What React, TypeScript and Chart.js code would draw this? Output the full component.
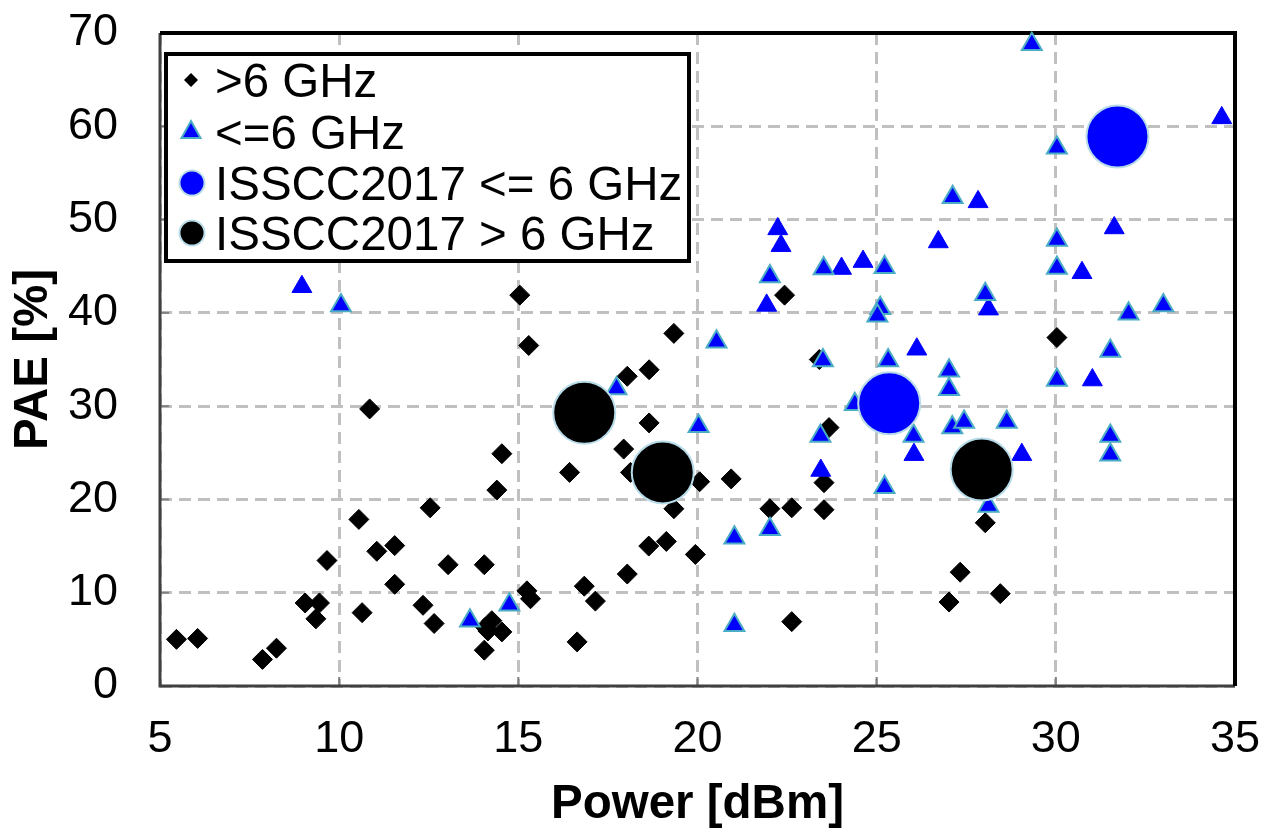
import React, { useEffect, useRef } from "react";
import { Chart, registerables } from "chart.js";

Chart.register(...registerables);

// ---- data: >6 GHz (black diamonds)
const gt6X = [5.46, 6.05, 7.86, 8.25, 9.05, 9.45, 9.35, 9.66, 10.64, 10.55, 10.85, 11.05, 11.55, 11.55, 12.34, 12.65, 12.54, 13.04, 14.05, 14.05, 14.54, 14.08, 14.26, 14.15, 14.4, 14.54, 15.04, 15.29, 15.24, 15.34, 19.34, 18.04, 18.65, 18.65, 17.94, 18.13, 16.43, 20.06, 20.94, 19.34, 18.64, 19.13, 19.94, 18.04, 16.84, 17.15, 16.64, 22.02, 22.63, 22.63, 22.43, 23.4, 23.67, 23.53, 23.53, 30.03, 28.03, 27.33, 27.02, 28.45];
const gt6Y = [5.0, 5.1, 2.85, 4.05, 8.9, 8.9, 7.2, 13.45, 7.86, 17.86, 29.7, 14.44, 15.05, 10.9, 8.65, 6.7, 19.1, 13.0, 13.0, 3.84, 5.8, 6.3, 7.0, 5.9, 21.0, 24.9, 41.9, 36.5, 10.2, 9.35, 37.8, 33.2, 33.9, 28.2, 25.4, 22.9, 22.9, 21.9, 22.2, 19.0, 15.0, 15.5, 14.1, 12.0, 10.7, 9.1, 4.73, 19.0, 19.1, 6.9, 41.9, 35.0, 27.7, 21.8, 18.9, 37.35, 17.5, 12.2, 9.0, 9.9];

// ---- data: <=6 GHz (blue triangles, outlined)
const le6X = [10.05, 13.65, 14.75, 17.74, 20.03, 20.53, 21.03, 21.03, 22.02, 22.02, 23.52, 25.22, 23.5, 23.43, 24.39, 25.1, 25.02, 25.32, 25.22, 26.03, 27.02, 27.02, 27.11, 27.44, 28.63, 28.12, 28.03, 27.12, 29.33, 30.03, 30.03, 30.03, 30.03, 31.52, 31.52, 31.52, 32.03, 33.0];
const le6Y = [40.8, 7.0, 8.7, 31.9, 27.85, 36.9, 15.9, 6.5, 16.8, 43.9, 44.75, 44.9, 34.9, 26.8, 30.2, 40.5, 39.7, 34.9, 21.3, 26.8, 33.8, 31.8, 27.7, 28.3, 28.3, 19.3, 42.0, 52.4, 68.8, 57.7, 47.8, 44.8, 32.8, 35.9, 26.8, 24.8, 39.9, 40.8];

// ---- data: <=6 GHz (blue triangles, no outline)
const le6bX = [8.96, 21.93, 22.24, 22.33, 24.02, 24.62, 23.44, 26.12, 26.04, 26.72, 27.83, 28.12, 29.05, 30.73, 31.02, 31.63, 34.63];
const le6bY = [42.8, 40.8, 49.0, 47.2, 44.75, 45.5, 23.1, 36.1, 24.8, 47.6, 51.9, 40.4, 24.8, 44.3, 32.8, 49.1, 60.9];

// ---- data: ISSCC2017
const isscLeX = [25.35, 31.72];
const isscLeY = [30.3, 58.9];
const isscGtX = [16.84, 19.03, 27.93];
const isscGtY = [29.3, 22.9, 23.2];

const xTicks = [5, 10, 15, 20, 25, 30, 35];
const yTicks = [0, 10, 20, 30, 40, 50, 60, 70];

const legendLabels = [">6 GHz", "<=6 GHz", "ISSCC2017 <= 6 GHz", "ISSCC2017 > 6 GHz"];

const FONT = "'Liberation Sans', Arial, sans-serif";

function pts(xs: number[], ys: number[]) {
  return xs.map((x, i) => ({ x, y: ys[i] }));
}

const framePlugin = {
  id: "frame",
  beforeDatasetsDraw(chart: any) {
    const { ctx, chartArea: a, scales } = chart;
    ctx.save();
    ctx.setLineDash([]);
    ctx.strokeStyle = "#808080";
    ctx.lineWidth = 2;
    xTicks.forEach((v) => {
      const px = scales.x.getPixelForValue(v);
      ctx.beginPath();
      ctx.moveTo(px, a.bottom);
      ctx.lineTo(px, a.bottom - 9);
      ctx.stroke();
    });
    yTicks.forEach((v) => {
      const py = scales.y.getPixelForValue(v);
      ctx.beginPath();
      ctx.moveTo(a.left, py);
      ctx.lineTo(a.left + 9, py);
      ctx.stroke();
    });
    ctx.strokeStyle = "#404040";
    ctx.lineWidth = 3;
    ctx.beginPath();
    ctx.moveTo(a.left, a.top);
    ctx.lineTo(a.left, a.bottom);
    ctx.lineTo(a.right, a.bottom);
    ctx.stroke();
    ctx.strokeStyle = "#000";
    ctx.lineWidth = 4;
    ctx.beginPath();
    ctx.moveTo(a.left, a.top);
    ctx.lineTo(a.right, a.top);
    ctx.lineTo(a.right, a.bottom);
    ctx.stroke();
    ctx.restore();
  },
};

const legendPlugin = {
  id: "boxLegend",
  afterDraw(chart: any) {
    const { ctx } = chart;
    ctx.save();
    ctx.setLineDash([]);
    ctx.fillStyle = "#fff";
    ctx.fillRect(166, 54, 523, 207);
    ctx.strokeStyle = "#000";
    ctx.lineWidth = 4;
    ctx.strokeRect(166, 54, 523, 207);
    const rows = [80, 132, 183, 233];
    const mx = 191;
    // diamond
    ctx.fillStyle = "#000";
    ctx.beginPath();
    ctx.moveTo(mx, rows[0] - 7);
    ctx.lineTo(mx + 7, rows[0]);
    ctx.lineTo(mx, rows[0] + 7);
    ctx.lineTo(mx - 7, rows[0]);
    ctx.closePath();
    ctx.fill();
    // triangle
    ctx.fillStyle = "#0000ff";
    ctx.strokeStyle = "#4bacc6";
    ctx.lineWidth = 2;
    ctx.beginPath();
    ctx.moveTo(mx, rows[1] - 11);
    ctx.lineTo(mx + 9.5, rows[1] + 6);
    ctx.lineTo(mx - 9.5, rows[1] + 6);
    ctx.closePath();
    ctx.fill();
    ctx.stroke();
    // circles
    ctx.strokeStyle = "#b7dbe8";
    ctx.fillStyle = "#0000ff";
    ctx.beginPath();
    ctx.arc(mx + 1, rows[2], 12.5, 0, Math.PI * 2);
    ctx.fill();
    ctx.stroke();
    ctx.fillStyle = "#000";
    ctx.beginPath();
    ctx.arc(mx + 1, rows[3], 12.5, 0, Math.PI * 2);
    ctx.fill();
    ctx.stroke();
    // text
    ctx.fillStyle = "#000";
    ctx.font = `47.5px ${FONT}`;
    ctx.textAlign = "left";
    ctx.textBaseline = "alphabetic";
    legendLabels.forEach((t, i) => {
      ctx.fillText(t, 215, rows[i] + 17);
    });
    ctx.restore();
  },
};

export default function App() {
  const ref = useRef<HTMLCanvasElement | null>(null);

  useEffect(() => {
    if (!ref.current) return;
    const chart = new Chart(ref.current, {
      type: "scatter",
      data: {
        datasets: [
          {
            label: legendLabels[0],
            data: pts(gt6X, gt6Y),
            pointStyle: "rectRot",
            pointRadius: 10,
            backgroundColor: "#000",
            borderColor: "#000",
            borderWidth: 1,
            order: 3,
            clip: false,
          },
          {
            label: legendLabels[1],
            data: pts(le6X, le6Y),
            pointStyle: "triangle",
            pointRadius: 11.5,
            backgroundColor: "#0000ff",
            borderColor: "#4bacc6",
            borderWidth: 2,
            order: 2,
            clip: false,
          },
          {
            label: legendLabels[1],
            data: pts(le6bX, le6bY),
            pointStyle: "triangle",
            pointRadius: 11.5,
            backgroundColor: "#0000ff",
            borderColor: "#0000ff",
            borderWidth: 1,
            order: 2,
            clip: false,
          },
          {
            label: legendLabels[2],
            data: pts(isscLeX, isscLeY),
            pointStyle: "circle",
            pointRadius: 31,
            backgroundColor: "#0000ff",
            borderColor: "#b7dbe8",
            borderWidth: 2,
            order: 1,
            clip: false,
          },
          {
            label: legendLabels[3],
            data: pts(isscGtX, isscGtY),
            pointStyle: "circle",
            pointRadius: 31,
            backgroundColor: "#000",
            borderColor: "#b7dbe8",
            borderWidth: 2,
            order: 1,
            clip: false,
          },
        ] as any,
      },
      options: {
        responsive: false,
        animation: false,
        events: [],
        layout: { padding: { top: 31, right: 39, left: 0, bottom: 0 } },
        plugins: {
          legend: { display: false },
          tooltip: { enabled: false },
        },
        scales: {
          x: {
            type: "linear",
            min: 5,
            max: 35,
            afterFit: (s: any) => {
              s.height = 152;
              s.paddingLeft = 0;
              s.paddingRight = 0;
            },
            afterBuildTicks: (s: any) => {
              s.ticks = xTicks.map((v) => ({ value: v }));
            },
            ticks: {
              font: { family: FONT, size: 45 },
              color: "#000",
              padding: 27,
              maxRotation: 0,
            },
            grid: { color: "#c0c0c0", lineWidth: 3, drawTicks: false },
            border: { display: false, dash: [12, 7] },
            title: {
              display: true,
              text: "Power [dBm]",
              font: { family: FONT, size: 47.5, weight: "bold" },
              color: "#000",
              padding: { top: 0, bottom: 5 },
            },
          },
          y: {
            type: "linear",
            min: 0,
            max: 70,
            afterFit: (s: any) => {
              s.width = 160;
              s.paddingTop = 0;
              s.paddingBottom = 0;
            },
            afterBuildTicks: (s: any) => {
              s.ticks = yTicks.map((v) => ({ value: v }));
            },
            ticks: {
              font: { family: FONT, size: 45 },
              color: "#000",
              padding: 42,
            },
            grid: { color: "#c0c0c0", lineWidth: 3, drawTicks: false },
            border: { display: false, dash: [12, 7] },
            title: {
              display: true,
              text: "PAE [%]",
              font: { family: FONT, size: 47.5, weight: "bold" },
              color: "#000",
              padding: { top: 5, bottom: 0 },
            },
          },
        },
      } as any,
      plugins: [framePlugin, legendPlugin],
    });
    return () => chart.destroy();
  }, []);

  return (
    <div style={{ position: "fixed", left: 0, top: 0, width: 1274, height: 838, background: "#fff" }}>
      <canvas ref={ref} width={1274} height={838} style={{ display: "block" }} />
    </div>
  );
}
